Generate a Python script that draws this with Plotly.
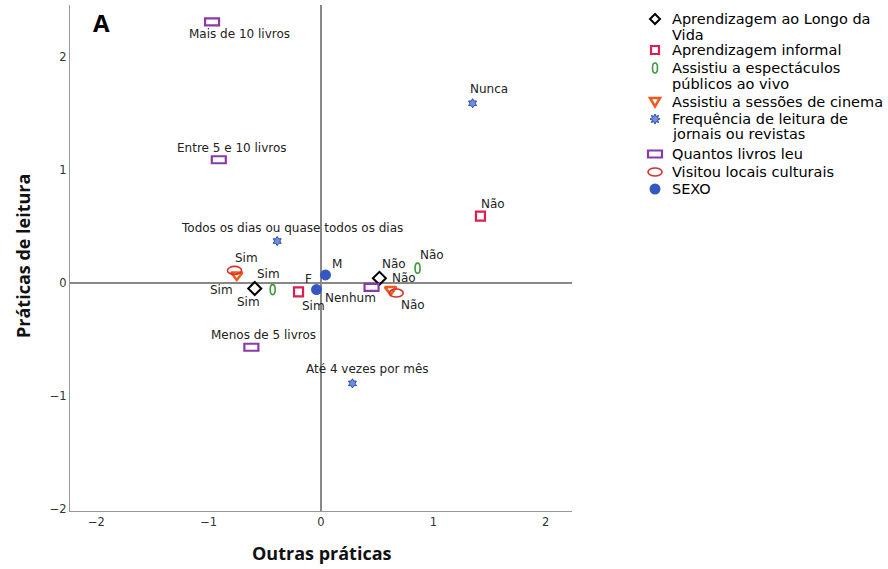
import math
import plotly.graph_objects as go

# ---------------- data ----------------
alv_labels = ["Não", "Sim"]
alv_x = [0.52, -0.59]
alv_y = [0.04, -0.05]

inf_labels = ["Não", "Sim"]
inf_x = [1.42, -0.20]
inf_y = [0.59, -0.08]

esp_labels = ["Não", "Sim"]
esp_x = [0.86, -0.43]
esp_y = [0.13, -0.06]

cin_labels = ["Não", "Sim"]
cin_x = [0.62, -0.75]
cin_y = [-0.06, 0.07]

freq_labels = ["Nunca", "Todos os dias ou quase todos os dias", "Até 4 vezes por mês"]
freq_x = [1.35, -0.39, 0.28]
freq_y = [1.59, 0.37, -0.89]

liv_labels = ["Mais de 10 livros", "Entre 5 e 10 livros", "Menos de 5 livros", "Nenhum"]
liv_x = [-0.97, -0.91, -0.62, 0.45]
liv_y = [2.31, 1.09, -0.57, -0.04]

vis_labels = ["Não", "Sim"]
vis_x = [0.67, -0.77]
vis_y = [-0.09, 0.11]

sexo_labels = ["M", "F"]
sexo_x = [0.04, -0.04]
sexo_y = [0.07, -0.06]

tick_vals = [-2, -1, 0, 1, 2]
tick_text = ["−2", "−1", "0", "1", "2"]

series_names = [
    ["Aprendizagem ao Longo da", "Vida"],
    ["Aprendizagem informal"],
    ["Assistiu a espectáculos", "públicos ao vivo"],
    ["Assistiu a sessões de cinema"],
    ["Frequência de leitura de", "jornais ou revistas"],
    ["Quantos livros leu"],
    ["Visitou locais culturais"],
    ["SEXO"],
]

# ---------------- styling / layout ----------------
FONT = "DejaVu Sans, Lucida Grande, Verdana, sans-serif"
TFONT = "Open Sans, DejaVu Sans, sans-serif"

C_ALV = "black"
C_INF = "#dc1f50"
C_ESP = "#3a9a3a"
C_CIN = "#f05a1e"
C_FREQ = "#6e8ee0"
C_FREQ_L = "#2f4fb0"
C_LIV = "#8a3aa8"
C_VIS = "#d8302a"
C_SEX = "#3557c0"

# label offsets in pixels (right, up)
alv_off = [(15, 14), (-6, -13)]
inf_off = [(13, 12), (15, -14)]
esp_off = [(14, 13), (-4, 16)]
cin_off = [(13, 12), (-15, -15)]
freq_off = [(16, 14), (15, 13), (15, 14)]
liv_off = [(27, -12), (13, 12), (12, 12), (-21, -11)]
vis_off = [(17, -12), (12, 12)]
sexo_off = [(12, 11), (-8, 11)]

ML, MR, MT, MB = 70, 316, 5, 58
W, H = 888, 569
PW, PH = W - ML - MR, H - MT - MB


def px2paper(px, py):
    return (px - ML) / PW, (H - MB - py) / PH


fig = go.Figure()

marker_series = [
    (alv_x, alv_y, dict(symbol="diamond-open", size=10, color=C_ALV, line=dict(width=2, color=C_ALV))),
    (inf_x, inf_y, dict(symbol="square-open", size=9, color=C_INF, line=dict(width=2.2, color=C_INF))),
    (cin_x, cin_y, dict(symbol="triangle-down-open", size=10, color=C_CIN, line=dict(width=2.5, color=C_CIN))),
    (freq_x, freq_y, dict(symbol="hexagram", size=7, color=C_FREQ, line=dict(width=1, color=C_FREQ_L))),
    (sexo_x, sexo_y, dict(symbol="circle", size=11, color=C_SEX, line=dict(width=0))),
]
for xs, ys, mk in marker_series:
    fig.add_trace(go.Scatter(x=xs, y=ys, mode="markers", marker=mk,
                             showlegend=False, hoverinfo="skip"))

shape_series = [
    (esp_x, esp_y, "circle", 2.5, 5, C_ESP, 1.6),
    (liv_x, liv_y, "rect", 7, 3.5, C_LIV, 2.2),
    (vis_x, vis_y, "circle", 7, 4, C_VIS, 1.6),
]
for xs, ys, stype, hw, hh, col, lw in shape_series:
    for xv, yv in zip(xs, ys):
        fig.add_shape(type=stype, xref="x", yref="y",
                      xsizemode="pixel", ysizemode="pixel",
                      xanchor=xv, yanchor=yv,
                      x0=-hw, x1=hw, y0=-hh, y1=hh,
                      line=dict(color=col, width=lw), fillcolor="rgba(0,0,0,0)",
                      layer="above")

# point labels
groups = [
    (alv_labels, alv_x, alv_y, alv_off),
    (inf_labels, inf_x, inf_y, inf_off),
    (esp_labels, esp_x, esp_y, esp_off),
    (cin_labels, cin_x, cin_y, cin_off),
    (freq_labels, freq_x, freq_y, freq_off),
    (liv_labels, liv_x, liv_y, liv_off),
    (vis_labels, vis_x, vis_y, vis_off),
    (sexo_labels, sexo_x, sexo_y, sexo_off),
]
for labels, xs, ys, offs in groups:
    for lab, xv, yv, (dx, dy) in zip(labels, xs, ys, offs):
        fig.add_annotation(x=xv, y=yv, text=lab, showarrow=False,
                           xshift=dx, yshift=dy, xanchor="center", yanchor="middle",
                           borderpad=0,
                           font=dict(family=FONT, size=12, color="#222"))

# ---------------- manual legend ----------------
LEG_ICON_X = 655
LEG_TEXT_X = 671
leg_row_y = [19, 50, 68, 102, 119, 154, 172, 189]   # first-line centre (px from top)
LEG_LINE = 15.5


def star_path(ro, ri, n=8):
    pts = []
    for k in range(2 * n):
        r = ro if k % 2 == 0 else ri
        a = math.pi / 2 + k * math.pi / n
        pts.append((r * math.cos(a), r * math.sin(a)))
    return "M " + " L ".join(f"{x:.2f},{y:.2f}" for x, y in pts) + " Z"


icon_defs = [
    dict(type="path", path="M 0,5 L 5,0 L 0,-5 L -5,0 Z", line=dict(color=C_ALV, width=2), fillcolor="rgba(0,0,0,0)"),
    dict(type="rect", x0=-4, x1=4, y0=-4, y1=4, line=dict(color=C_INF, width=2.2), fillcolor="rgba(0,0,0,0)"),
    dict(type="circle", x0=-2.5, x1=2.5, y0=-5, y1=5, line=dict(color=C_ESP, width=1.6), fillcolor="rgba(0,0,0,0)"),
    dict(type="path", path="M -5,4 L 5,4 L 0,-4.5 Z", line=dict(color=C_CIN, width=2.5), fillcolor="rgba(0,0,0,0)"),
    dict(type="path", path=star_path(5, 2.8), line=dict(color=C_FREQ_L, width=1), fillcolor=C_FREQ),
    dict(type="rect", x0=-7, x1=7, y0=-3.5, y1=3.5, line=dict(color=C_LIV, width=2.2), fillcolor="rgba(0,0,0,0)"),
    dict(type="circle", x0=-7, x1=7, y0=-4, y1=4, line=dict(color=C_VIS, width=1.6), fillcolor="rgba(0,0,0,0)"),
    dict(type="circle", x0=-5.5, x1=5.5, y0=-5.5, y1=5.5, line=dict(color=C_SEX, width=0), fillcolor=C_SEX),
]

for lines, ry, icon in zip(series_names, leg_row_y, icon_defs):
    ix, iy = px2paper(LEG_ICON_X, ry)
    fig.add_shape(xref="paper", yref="paper", xsizemode="pixel", ysizemode="pixel",
                  xanchor=ix, yanchor=iy, layer="above", **icon)
    for j, line in enumerate(lines):
        tx, ty = px2paper(LEG_TEXT_X, ry + j * LEG_LINE)
        fig.add_annotation(xref="paper", yref="paper", x=tx, y=ty, xanchor="left", yanchor="middle",
                           text=line, showarrow=False, borderpad=0,
                           font=dict(family=FONT, size=14.5, color="black"))

ax_, ay_ = px2paper(101, 22)
fig.add_annotation(xref="paper", yref="paper", x=ax_, y=ay_, xanchor="center", yanchor="middle",
                   text="<b>A</b>", showarrow=False,
                   font=dict(family=TFONT, size=24, color="black"))

# axis titles
tx_, ty_ = px2paper(322, 553)
fig.add_annotation(xref="paper", yref="paper", x=tx_, y=ty_, xanchor="center", yanchor="middle",
                   text="<b>Outras práticas</b>", showarrow=False,
                   font=dict(family=TFONT, size=18, color="#111"))
tx_, ty_ = px2paper(23, 256)
fig.add_annotation(xref="paper", yref="paper", x=tx_, y=ty_, xanchor="center", yanchor="middle",
                   text="<b>Práticas de leitura</b>", showarrow=False, textangle=-90,
                   font=dict(family=TFONT, size=18, color="#111"))

fig.update_layout(
    width=W, height=H,
    margin=dict(l=ML, r=MR, t=MT, b=MB, autoexpand=False),
    paper_bgcolor="white", plot_bgcolor="white",
    font=dict(family=FONT, size=12, color="#222"),
    showlegend=False,
    hovermode=False,
    xaxis=dict(range=[-2.235, 2.235], tickvals=tick_vals, ticktext=tick_text,
               showgrid=False, zeroline=True, zerolinecolor="#888", zerolinewidth=1.5,
               showline=True, linecolor="#999", linewidth=1, ticks="", automargin=False,
               tickfont=dict(family=FONT, size=11.5, color="#333")),
    yaxis=dict(range=[-2.02, 2.46], tickvals=tick_vals, ticktext=tick_text,
               showgrid=False, zeroline=True, zerolinecolor="#888", zerolinewidth=1.5,
               showline=True, linecolor="#999", linewidth=1, ticks="", automargin=False,
               tickfont=dict(family=FONT, size=11.5, color="#333")),
)

fig.write_html("out.html", config={"displayModeBar": False},
               post_script="document.body.style.margin='0';document.body.style.overflow='hidden';")
